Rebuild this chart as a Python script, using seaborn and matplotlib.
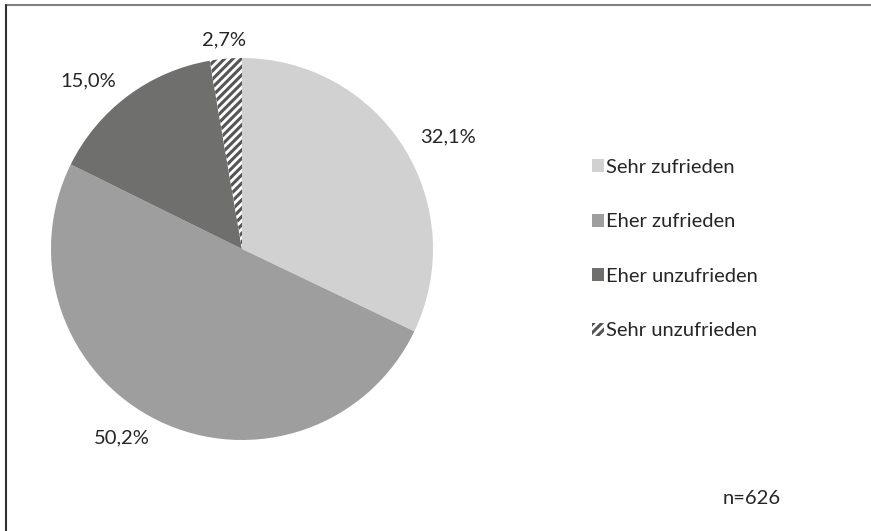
import matplotlib.pyplot as plt
import seaborn as sns
from matplotlib.patches import Patch
from matplotlib.lines import Line2D

categories = ['Sehr zufrieden', 'Eher zufrieden', 'Eher unzufrieden', 'Sehr unzufrieden']
shares = [32.1, 50.2, 15.0, 2.7]
labels = ['32,1%', '50,2%', '15,0%', '2,7%']
n_total = 'n=626'

colors = ['#d0d1d0', '#9d9e9d', '#6f6f6e', '#ffffff']

sns.set_theme(style='white')
plt.rcParams['font.family'] = ['Lato', 'DejaVu Sans']
plt.rcParams['hatch.linewidth'] = 2.2
text_color = '#262626'
fs = 14.5

W, H = 871, 531
fig = plt.figure(figsize=(W / 100, H / 100), dpi=100)

# pie centred at (242, 249) px, radius ~191 px
r = 191
ax = fig.add_axes([(242 - r) / W, 1 - (249 + r) / H, 2 * r / W, 2 * r / H])
wedges, texts = ax.pie(shares, labels=labels, colors=colors, startangle=90,
                       counterclock=False, labeldistance=1.1,
                       wedgeprops=dict(linewidth=0),
                       textprops=dict(fontsize=fs, color=text_color))
for t in texts:
    if abs(t.get_position()[0]) < 0.2:
        t.set_ha('center')
wedges[3].set_hatch('////')
wedges[3].set_edgecolor('#555555')
ax.set_xlim(-1, 1)
ax.set_ylim(-1, 1)
ax.set_aspect('equal')
ax.axis('off')

handles = []
for cat, col, w in zip(categories, colors, wedges):
    p = Patch(facecolor=col, edgecolor='#555555' if w.get_hatch() else col,
              hatch=w.get_hatch(), linewidth=0, label=cat)
    handles.append(p)
fig.legend(handles=handles, loc='upper left', bbox_to_anchor=(592 / W, 1 - 159 / H),
           frameon=False, fontsize=fs, labelcolor=text_color,
           borderpad=0, borderaxespad=0,
           handlelength=0.62, handleheight=0.62, handletextpad=0.08,
           labelspacing=1.86)

fig.text(781 / W, 1 - 498 / H, n_total, ha='right', va='center',
         fontsize=fs, color=text_color)

# frame lines along top and left edge
fig.add_artist(Line2D([6 / W, 1], [1 - 5 / H, 1 - 5 / H], color='#808080', lw=1.5))
fig.add_artist(Line2D([6 / W, 6 / W], [0, 1 - 5 / H], color='#303030', lw=1.5))

fig.savefig('out.png', dpi=100)
